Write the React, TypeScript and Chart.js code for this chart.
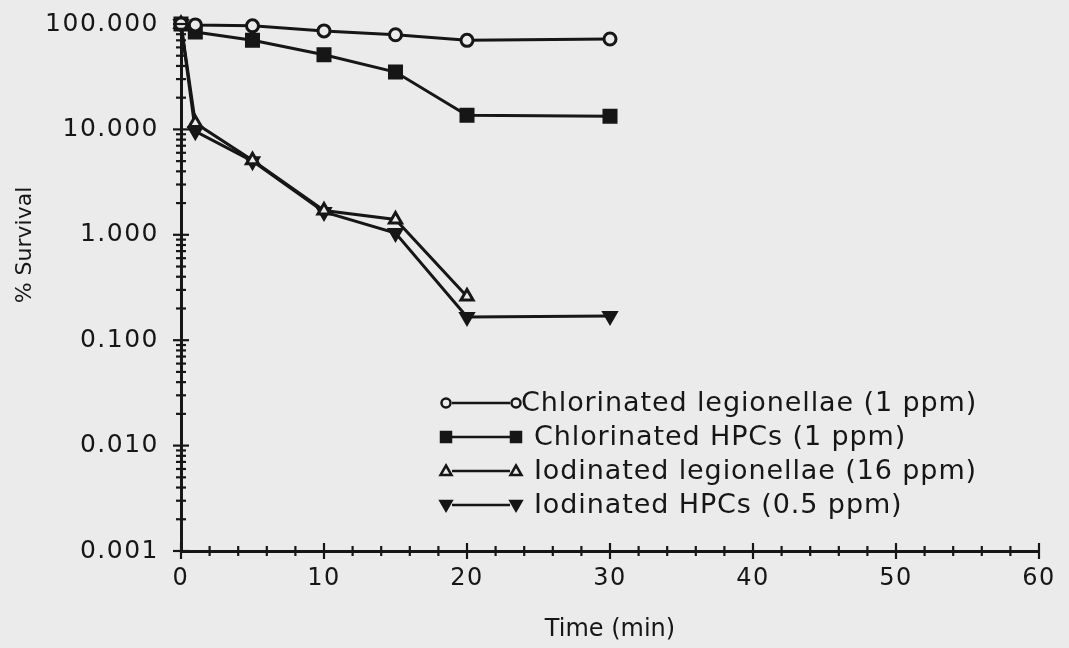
import React, { useEffect, useRef } from "react";
import { Chart, registerables } from "chart.js";

Chart.register(...registerables);

const times = [0, 1, 5, 10, 15, 20, 30];
const chlorinatedLegionellae = [100, 98, 96, 86, 79, 70, 72];
const chlorinatedHPCs = [100, 84, 70, 51, 35, 13.6, 13.3];
const iodinatedLegionellae = [100, 11.5, 5.1, 1.7, 1.4, 0.26];
const iodinatedHPCs = [100, 9.6, 5.0, 1.65, 1.04, 0.166, 0.17];
const seriesLabels = [
  "Chlorinated legionellae (1 ppm)",
  "Chlorinated HPCs (1 ppm)",
  "Iodinated legionellae (16 ppm)",
  "Iodinated HPCs (0.5 ppm)",
];
const yTickLabels = ["0.001", "0.010", "0.100", "1.000", "10.000", "100.000"];

const BG = "#ebebeb";
const INK = "#161616";
const FONT = "'DejaVu Sans', sans-serif";

type Marker = "circle" | "square" | "triUp" | "triDown";
const markers: Marker[] = ["circle", "square", "triUp", "triDown"];

function drawMarker(ctx: CanvasRenderingContext2D, m: Marker, x: number, y: number) {
  ctx.save();
  ctx.lineWidth = 2.5;
  ctx.strokeStyle = INK;
  ctx.beginPath();
  if (m === "circle") {
    ctx.arc(x, y, 4.5, 0, Math.PI * 2);
    ctx.fillStyle = BG;
    ctx.fill();
    ctx.stroke();
  } else if (m === "square") {
    ctx.rect(x - 5, y - 5, 10, 10);
    ctx.fillStyle = INK;
    ctx.fill();
    ctx.stroke();
  } else if (m === "triUp") {
    ctx.moveTo(x, y - 5.5);
    ctx.lineTo(x + 5.5, y + 4);
    ctx.lineTo(x - 5.5, y + 4);
    ctx.closePath();
    ctx.fillStyle = BG;
    ctx.fill();
    ctx.stroke();
  } else {
    ctx.moveTo(x, y + 5.5);
    ctx.lineTo(x + 5.5, y - 4);
    ctx.lineTo(x - 5.5, y - 4);
    ctx.closePath();
    ctx.fillStyle = INK;
    ctx.fill();
    ctx.stroke();
  }
  ctx.restore();
}

const bgPlugin = {
  id: "bg",
  beforeDraw(chart: any) {
    const ctx = chart.ctx;
    ctx.fillStyle = BG;
    ctx.fillRect(0, 0, chart.width, chart.height);
    (ctx as any).letterSpacing = "1.5px";
  },
};

const decorPlugin = {
  id: "decor",
  afterDraw(chart: any) {
    const ctx: CanvasRenderingContext2D = chart.ctx;
    const xs = chart.scales.x;
    const ys = chart.scales.y;
    const area = chart.chartArea;
    ctx.save();
    ctx.strokeStyle = INK;
    ctx.lineWidth = 2.2;
    // y ticks crossing the axis
    ys.ticks.forEach((t: any) => {
      const py = ys.getPixelForValue(t.value);
      const lg = Math.log10(t.value);
      const major = Math.abs(lg - Math.round(lg)) < 1e-6;
      const len = major ? 8 : 5;
      ctx.beginPath();
      ctx.moveTo(area.left - len, py);
      ctx.lineTo(area.left + len, py);
      ctx.stroke();
    });
    // x ticks crossing the axis
    xs.ticks.forEach((t: any) => {
      const px = xs.getPixelForValue(t.value);
      const major = t.value % 10 === 0;
      const len = major ? 8 : 5;
      ctx.beginPath();
      ctx.moveTo(px, area.bottom - len);
      ctx.lineTo(px, area.bottom + len);
      ctx.stroke();
    });
    // axis titles
    (ctx as any).letterSpacing = "0px";
    ctx.fillStyle = INK;
    ctx.font = `24px ${FONT}`;
    ctx.textAlign = "center";
    ctx.textBaseline = "middle";
    ctx.fillText("Time (min)", (area.left + area.right) / 2, 630);
    ctx.save();
    ctx.translate(25, 245);
    ctx.rotate(-Math.PI / 2);
    ctx.font = `22px ${FONT}`;
    ctx.fillText("% Survival", 0, 0);
    ctx.restore();

    // legend
    const rowsY = [403, 437, 471, 505];
    ctx.font = `27px ${FONT}`;
    (ctx as any).letterSpacing = "0.9px";
    ctx.textAlign = "left";
    seriesLabels.forEach((lab, i) => {
      const y = rowsY[i];
      ctx.beginPath();
      ctx.lineWidth = 2.5;
      ctx.moveTo(452, y);
      ctx.lineTo(510, y);
      ctx.stroke();
      drawMarker(ctx, markers[i], 446, y);
      drawMarker(ctx, markers[i], 516, y);
      ctx.fillText(lab, i === 0 ? 521 : 534, y + 1);
    });
    ctx.restore();
  },
};

export default function App() {
  const ref = useRef<HTMLCanvasElement | null>(null);

  useEffect(() => {
    document.body.style.margin = "0";
    document.body.style.background = BG;
    const toPts = (vals: number[]) => vals.map((v, i) => ({ x: times[i], y: v }));
    const series = [chlorinatedLegionellae, chlorinatedHPCs, iodinatedLegionellae, iodinatedHPCs];
    const styles = [
      { pointStyle: "circle", pointRadius: 6, pointBackgroundColor: BG, pointRotation: 0 },
      { pointStyle: "rect", pointRadius: 8.5, pointBackgroundColor: INK, pointRotation: 0 },
      { pointStyle: "triangle", pointRadius: 7, pointBackgroundColor: BG, pointRotation: 0 },
      { pointStyle: "triangle", pointRadius: 7, pointBackgroundColor: INK, pointRotation: 180 },
    ];
    const datasets = series.map((vals, i) => ({
      label: seriesLabels[i],
      data: toPts(vals),
      borderColor: INK,
      borderWidth: 3,
      pointBorderColor: INK,
      pointBorderWidth: 3,
      tension: 0,
      clip: false as any,
      ...styles[i],
    }));

    const chart = new Chart(ref.current!, {
      type: "line",
      data: { datasets: datasets as any },
      options: {
        animation: false,
        responsive: true,
        maintainAspectRatio: false,
        layout: { padding: { top: 24, right: 30, left: 0, bottom: 0 } },
        plugins: { legend: { display: false }, tooltip: { enabled: false } },
        scales: {
          x: {
            type: "linear",
            min: 0,
            max: 60,
            grid: { display: false, drawTicks: false },
            border: { display: true, color: INK, width: 3 },
            ticks: {
              stepSize: 2,
              autoSkip: false,
              maxRotation: 0,
              padding: 13,
              color: INK,
              font: { family: FONT, size: 24 },
              callback: (v: any) => (Number(v) % 10 === 0 ? String(v) : ""),
            },
            afterFit: (s: any) => {
              s.height = 97;
              s.paddingLeft = 0;
              s.paddingRight = 0;
            },
          },
          y: {
            type: "logarithmic",
            min: 0.001,
            max: 100,
            grid: { display: false, drawTicks: false },
            border: { display: true, color: INK, width: 3 },
            afterBuildTicks: (s: any) => {
              const ticks: any[] = [];
              for (let e = -3; e <= 1; e++) {
                for (let k = 1; k <= 9; k++) ticks.push({ value: k * Math.pow(10, e) });
              }
              ticks.push({ value: 100 });
              s.ticks = ticks;
            },
            ticks: {
              autoSkip: false,
              padding: 22,
              color: INK,
              font: { family: FONT, size: 25 },
              callback: (v: any) => {
                const lg = Math.log10(Number(v));
                if (Math.abs(lg - Math.round(lg)) > 1e-6) return "";
                return yTickLabels[Math.round(lg) + 3];
              },
            },
            afterFit: (s: any) => {
              s.width = 181;
              s.paddingTop = 0;
              s.paddingBottom = 0;
            },
          },
        },
      },
      plugins: [bgPlugin, decorPlugin],
    });
    return () => chart.destroy();
  }, []);

  return (
    <div style={{ position: "fixed", left: 0, top: 0, width: 1069, height: 648, background: BG }}>
      <canvas ref={ref} />
    </div>
  );
}
